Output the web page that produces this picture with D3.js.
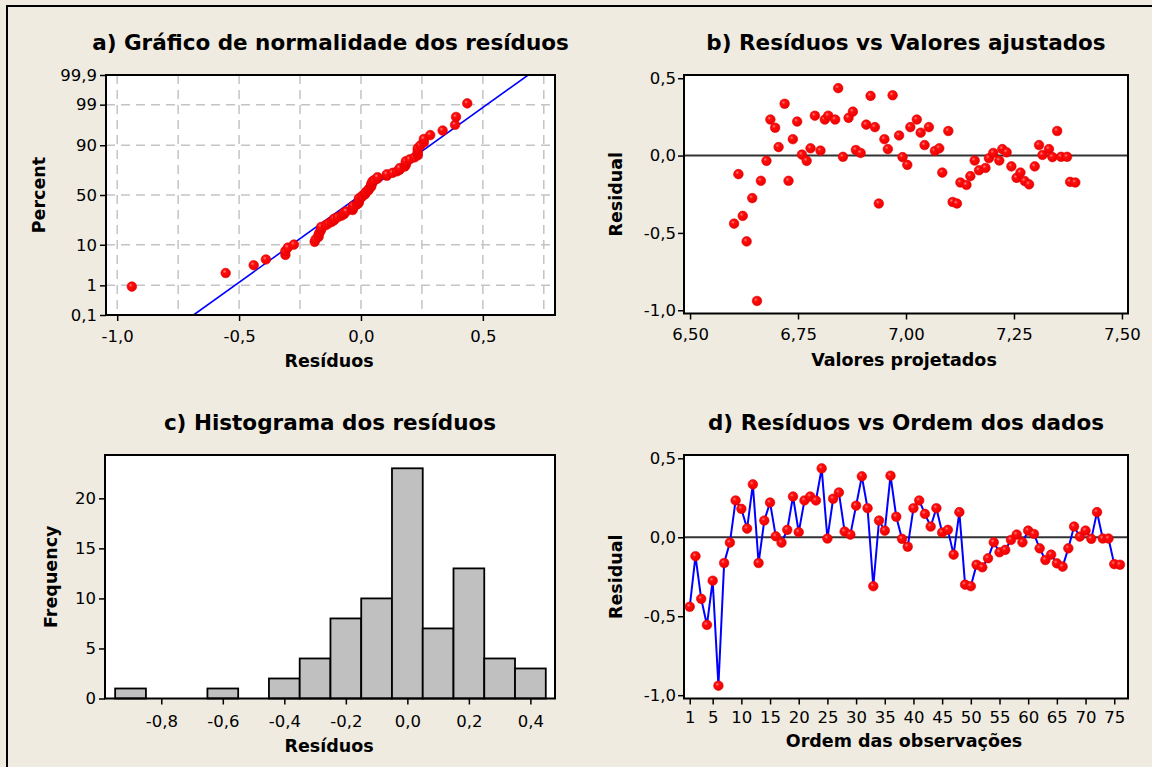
<!DOCTYPE html>
<html>
<head>
<meta charset="utf-8">
<script src="https://cdn.jsdelivr.net/npm/d3@7"></script>
<style>
    body { margin: 0; background: #EFEBE1; }
    text { font-family: "DejaVu Sans", sans-serif; fill: #000; }
    .title { font-weight: bold; font-size: 21.5px; }
    .lab { font-weight: bold; font-size: 17.5px; }
    .axis text { font-size: 16.5px; }
    .axis line { stroke: #000; stroke-width: 1.5px; }
</style>
</head>
<body>
<div id="chart"></div>
<script>
var residuals = [
    -0.44, -0.12, -0.39, -0.555, -0.275, -0.94, -0.163, -0.034, 0.233, 0.18,
    0.055, 0.335, -0.163, 0.106, 0.22, 0.006, -0.034, 0.047, 0.258, 0.032,
    0.233, 0.258, 0.233, 0.436, -0.008, 0.244, 0.284, 0.036, 0.017, 0.2,
    0.386, 0.184, -0.31, 0.106, 0.042, 0.39, 0.13, -0.01, -0.06, 0.184,
    0.233, 0.148, 0.068, 0.184, 0.03, 0.047, -0.11, 0.159, -0.3, -0.31,
    -0.174, -0.19, -0.133, -0.032, -0.095, -0.08, -0.017, 0.017, -0.032, 0.042,
    0.021, -0.07, -0.144, -0.11, -0.165, -0.186, -0.07, 0.068, 0.004, 0.042,
    -0.01, 0.159, -0.008, -0.008, -0.17, -0.174
];
// fitted values, same order
var fitted = [
    6.602, 6.612, 6.622, 6.631, 6.644, 6.655, 6.664, 6.677, 6.686, 6.697,
    6.705, 6.719, 6.728, 6.738, 6.748, 6.759, 6.770, 6.779, 6.789, 6.802,
    6.812, 6.820, 6.836, 6.843, 6.854, 6.867, 6.877, 6.884, 6.895, 6.908,
    6.918, 6.928, 6.937, 6.950, 6.958, 6.969, 6.984, 6.992, 7.003, 7.010,
    7.025, 7.034, 7.043, 7.053, 7.067, 7.077, 7.084, 7.098, 7.108, 7.118,
    7.126, 7.140, 7.149, 7.159, 7.169, 7.184, 7.192, 7.202, 7.216, 7.223,
    7.233, 7.244, 7.256, 7.265, 7.275, 7.285, 7.298, 7.308, 7.316, 7.331,
    7.339, 7.350, 7.359, 7.373, 7.380, 7.392
];
var histCenters = [-0.9, -0.8, -0.7, -0.6, -0.5, -0.4, -0.3, -0.2, -0.1, 0.0, 0.1, 0.2, 0.3, 0.4];
var histCounts = [1, 0, 0, 1, 0, 2, 4, 8, 10, 23, 7, 13, 4, 3];
var histWidth = 0.1;

var percentTicks = [0.1, 1, 10, 50, 90, 99, 99.9];
var percentLabels = ["0,1", "1", "10", "50", "90", "99", "99,9"];
var normTicks = [-1.0, -0.5, 0.0, 0.5];
var normGrid = [-1.0, -0.75, -0.5, -0.25, 0.0, 0.25, 0.5, 0.75];
var fittedTicks = [6.5, 6.75, 7.0, 7.25, 7.5];
var residTicks = [0.5, 0.0, -0.5, -1.0];
var histXTicks = [-0.8, -0.6, -0.4, -0.2, 0.0, 0.2, 0.4];
var histYTicks = [0, 5, 10, 15, 20];
var orderTicks = [1, 5, 10, 15, 20, 25, 30, 35, 40, 45, 50, 55, 60, 65, 70, 75];

var width = 1152, height = 767;

var locale = d3.formatLocale({decimal: ",", thousands: ".", grouping: [3], currency: ["", ""], minus: "-"});
var f1 = locale.format(".1f"), f2 = locale.format(".2f");

// inverse normal cdf (Acklam)
function probit(p) {
    var a = [-39.69683028665376, 220.9460984245205, -275.9285104469687, 138.3577518672690, -30.66479806614716, 2.506628277459239],
        b = [-54.47609879822406, 161.5858368580409, -155.6989798598866, 66.80131188771972, -13.28068155288572],
        c = [-0.007784894002430293, -0.3223964580411365, -2.400758277161838, -2.549732539343734, 4.374664141464968, 2.938163982698783],
        d = [0.007784695709041462, 0.3224671290700398, 2.445134137142996, 3.754408661907416],
        q, r;
    if (p < 0.02425) {
        q = Math.sqrt(-2 * Math.log(p));
        return (((((c[0] * q + c[1]) * q + c[2]) * q + c[3]) * q + c[4]) * q + c[5]) / ((((d[0] * q + d[1]) * q + d[2]) * q + d[3]) * q + 1);
    }
    if (p > 1 - 0.02425) {
        q = Math.sqrt(-2 * Math.log(1 - p));
        return -(((((c[0] * q + c[1]) * q + c[2]) * q + c[3]) * q + c[4]) * q + c[5]) / ((((d[0] * q + d[1]) * q + d[2]) * q + d[3]) * q + 1);
    }
    q = p - 0.5;
    r = q * q;
    return (((((a[0] * r + a[1]) * r + a[2]) * r + a[3]) * r + a[4]) * r + a[5]) * q / (((((b[0] * r + b[1]) * r + b[2]) * r + b[3]) * r + b[4]) * r + 1);
}

var svg = d3.select("#chart").append("svg").attr("width", width).attr("height", height);

svg.append("rect").attr("x", 0).attr("y", 0).attr("width", width).attr("height", height).attr("fill", "#EFEBE1");
// outer border (only left and top visible in the crop)
svg.append("path").attr("d", "M7," + (height + 5) + "V6H" + (width + 5)).attr("fill", "none").attr("stroke", "#000").attr("stroke-width", 2);

var grad = svg.append("defs").append("radialGradient").attr("id", "dot").attr("cx", "38%").attr("cy", "35%").attr("r", "65%");
grad.append("stop").attr("offset", "0%").attr("stop-color", "#ff8080");
grad.append("stop").attr("offset", "30%").attr("stop-color", "#ff0d0d");
grad.append("stop").attr("offset", "100%").attr("stop-color", "#ee0000");

function panel(box, title, xlab, ylab) {
    var g = svg.append("g");
    g.append("rect").attr("x", box.x0).attr("y", box.y0).attr("width", box.x1 - box.x0).attr("height", box.y1 - box.y0).attr("fill", "#fff");
    g.append("text").attr("class", "title").attr("x", (box.x0 + box.x1) / 2).attr("y", box.y0 - 25.5).attr("text-anchor", "middle").text(title);
    g.append("text").attr("class", "lab").attr("x", box.xlabX).attr("y", box.xlabY).attr("text-anchor", "middle").text(xlab);
    g.append("text").attr("class", "lab").attr("text-anchor", "middle").attr("transform", "translate(" + box.ylabX + "," + ((box.y0 + box.y1) / 2) + ") rotate(-90)").text(ylab);
    return g;
}

function frame(g, box) {
    g.append("rect").attr("x", box.x0).attr("y", box.y0).attr("width", box.x1 - box.x0).attr("height", box.y1 - box.y0).attr("fill", "none").attr("stroke", "#000").attr("stroke-width", 2);
}

function axes(g, box, x, y, xt, yt, xf, yf, xpad, ypad) {
    g.append("g").attr("class", "axis").attr("transform", "translate(0," + box.y1 + ")")
        .call(d3.axisBottom(x).tickValues(xt).tickFormat(xf).tickSize(6).tickSizeOuter(0).tickPadding(xpad))
        .call(function(s) { s.select(".domain").remove(); });
    g.append("g").attr("class", "axis").attr("transform", "translate(" + box.x0 + ",0)")
        .call(d3.axisLeft(y).tickValues(yt).tickFormat(yf).tickSize(6).tickSizeOuter(0).tickPadding(ypad))
        .call(function(s) { s.select(".domain").remove(); });
}

function dots(g, pts) {
    g.append("g").selectAll("circle").data(pts).enter().append("circle")
        .attr("cx", function(d) { return d[0]; }).attr("cy", function(d) { return d[1]; })
        .attr("r", 4.8).attr("fill", "url(#dot)").attr("stroke", "#e00000").attr("stroke-width", 0.6);
}

// ---------- a) normal probability plot ----------
var boxA = {x0: 106, x1: 555, y0: 75, y1: 315, xlabX: 329, xlabY: 366.5, ylabX: 45};
var gA = panel(boxA, "a) Gráfico de normalidade dos resíduos", "Resíduos", "Percent");
var xA = d3.scaleLinear().domain([-1.046, 0.796]).range([boxA.x0, boxA.x1]);
var yA = d3.scaleLinear().domain([probit(0.001), probit(0.999)]).range([boxA.y1, boxA.y0]);
var zTicks = percentTicks.map(function(p) { return probit(p / 100); });

gA.append("g").selectAll("line").data(normGrid).enter().append("line")
    .attr("x1", function(d) { return xA(d); }).attr("x2", function(d) { return xA(d); })
    .attr("y1", boxA.y0).attr("y2", boxA.y1)
    .attr("stroke", "#c4c4c4").attr("stroke-width", 1.5).attr("stroke-dasharray", "9,6");
gA.append("g").selectAll("line").data(zTicks.slice(1, -1)).enter().append("line")
    .attr("x1", boxA.x0).attr("x2", boxA.x1)
    .attr("y1", function(d) { return yA(d); }).attr("y2", function(d) { return yA(d); })
    .attr("stroke", "#c4c4c4").attr("stroke-width", 1.5).attr("stroke-dasharray", "9,6");

var sorted = residuals.slice().sort(d3.ascending);
var n = sorted.length;
var mu = d3.mean(residuals), sd = d3.deviation(residuals);
var zEnds = [probit(0.001), probit(0.999)];

gA.append("defs").append("clipPath").attr("id", "clipA").append("rect")
    .attr("x", boxA.x0).attr("y", boxA.y0).attr("width", boxA.x1 - boxA.x0).attr("height", boxA.y1 - boxA.y0);
gA.append("path").datum(zEnds).attr("clip-path", "url(#clipA)")
    .attr("d", d3.line().x(function(z) { return xA(mu + sd * z); }).y(function(z) { return yA(z); }))
    .attr("fill", "none").attr("stroke", "#0000ff").attr("stroke-width", 1.6);

dots(gA, sorted.map(function(v, i) { return [xA(v), yA(probit((i + 1 - 0.3) / (n + 0.4)))]; }));
frame(gA, boxA);
axes(gA, boxA, xA, yA, normTicks, zTicks, f1,
    function(d, i) { return percentLabels[i]; }, 9, 3);

// ---------- b) residuals vs fitted ----------
var boxB = {x0: 684, x1: 1128, y0: 75, y1: 313.5, xlabX: 904, xlabY: 366, ylabX: 622};
var gB = panel(boxB, "b) Resíduos vs Valores ajustados", "Valores projetados", "Residual");
var xB = d3.scaleLinear().domain([6.486, 7.514]).range([boxB.x0, boxB.x1]);
var yB = d3.scaleLinear().domain([-1.021, 0.521]).range([boxB.y1, boxB.y0]);
gB.append("line").attr("x1", boxB.x0).attr("x2", boxB.x1).attr("y1", yB(0)).attr("y2", yB(0)).attr("stroke", "#333").attr("stroke-width", 2);
dots(gB, residuals.map(function(r, i) { return [xB(fitted[i]), yB(r)]; }));
frame(gB, boxB);
axes(gB, boxB, xB, yB, fittedTicks, residTicks, f2, f1, 9, 2);

// ---------- c) histogram ----------
var boxC = {x0: 105, x1: 555, y0: 455, y1: 698.5, xlabX: 329, xlabY: 752, ylabX: 57};
var gC = panel(boxC, "c) Histograma dos resíduos", "Resíduos", "Frequency");
var xC = d3.scaleLinear().domain([-0.983, 0.48]).range([boxC.x0, boxC.x1]);
var yC = d3.scaleLinear().domain([0, 24.33]).range([boxC.y1, boxC.y0]);
var bins = histCenters.map(function(c, i) { return {c: c, n: histCounts[i]}; }).filter(function(d) { return d.n > 0; });
gC.append("g").selectAll("rect").data(bins).enter().append("rect")
    .attr("x", function(d) { return xC(d.c - histWidth / 2); })
    .attr("width", function(d) { return xC(d.c + histWidth / 2) - xC(d.c - histWidth / 2); })
    .attr("y", function(d) { return yC(d.n); })
    .attr("height", function(d) { return yC(0) - yC(d.n); })
    .attr("fill", "#c0c0c0").attr("stroke", "#000").attr("stroke-width", 1.8);
frame(gC, boxC);
axes(gC, boxC, xC, yC, histXTicks, histYTicks, f1, d3.format("d"), 11, 3);

// ---------- d) residuals vs order ----------
var boxD = {x0: 684, x1: 1128, y0: 455, y1: 698.5, xlabX: 904, xlabY: 746.5, ylabX: 622};
var gD = panel(boxD, "d) Resíduos vs Ordem dos dados", "Ordem das observações", "Residual");
var xD = d3.scaleLinear().domain([0, 77.4]).range([boxD.x0, boxD.x1]);
var yD = d3.scaleLinear().domain([-1.021, 0.521]).range([boxD.y1, boxD.y0]);
gD.append("line").attr("x1", boxD.x0).attr("x2", boxD.x1).attr("y1", yD(0)).attr("y2", yD(0)).attr("stroke", "#333").attr("stroke-width", 2);
gD.append("path").datum(residuals)
    .attr("d", d3.line().x(function(d, i) { return xD(i + 1); }).y(function(d) { return yD(d); }))
    .attr("fill", "none").attr("stroke", "#0000ff").attr("stroke-width", 2);
dots(gD, residuals.map(function(r, i) { return [xD(i + 1), yD(r)]; }));
frame(gD, boxD);
axes(gD, boxD, xD, yD, orderTicks, residTicks, d3.format("d"), f1, 7, 2);
</script>
</body>
</html>
